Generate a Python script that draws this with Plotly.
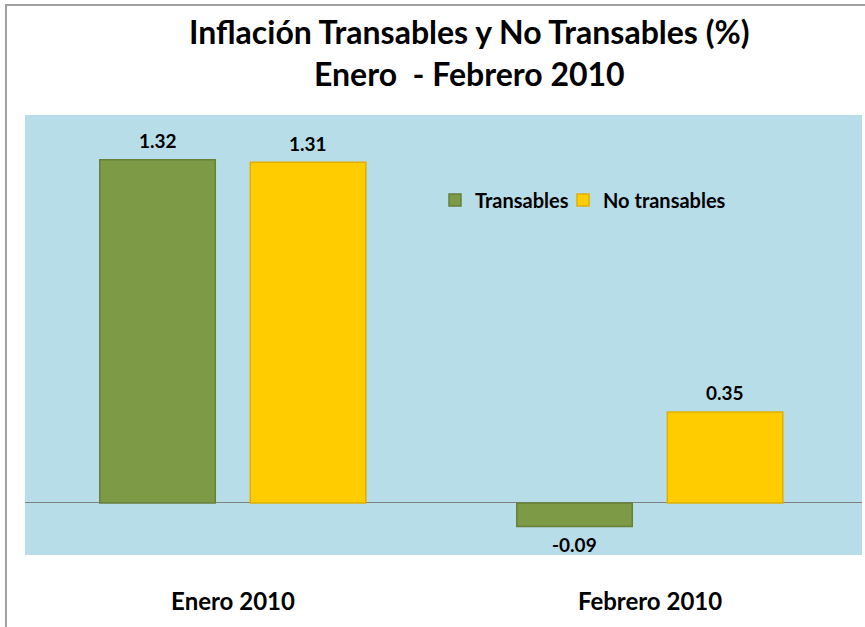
import plotly.graph_objects as go

categories = ["Enero 2010", "Febrero 2010"]
transables = [1.32, -0.09]
no_transables = [1.31, 0.35]
series_names = ["Transables", "No transables"]
title_line1 = "Inflación Transables y No Transables (%)"
title_line2 = "Enero  - Febrero 2010"

FONT = "Lato, 'Open Sans', sans-serif"
W, H = 865, 627
L, R, T, B = 25, 3, 115, 72
pw, ph = W - L - R, H - T - B


def px_to_paper(px, py):
    return (px - L) / pw, (H - B - py) / ph


xpos = list(range(len(categories)))
bar_w = 0.277
offsets = [-0.3195, 0.0415]
colors = ["#7d9a46", "#ffcc00"]
line_colors = ["#66803a", "#e0b000"]
legend_ids = ["legend", "legend2"]
legend_px = [435, 563]

fig = go.Figure()
for vals, name, off, col, lc, lg in zip([transables, no_transables], series_names, offsets,
                                        colors, line_colors, legend_ids):
    fig.add_trace(go.Bar(
        x=xpos, y=vals, name=name, width=bar_w, offset=off, legend=lg,
        marker=dict(color=col, line=dict(color=lc, width=1.5)),
    ))
    for xi, v in zip(xpos, vals):
        fig.add_annotation(
            x=xi + off + bar_w / 2, y=v, xref="x", yref="y",
            text=f"<b>{v:.2f}</b>", showarrow=False,
            yanchor="middle", yshift=19 if v >= 0 else -18,
            font=dict(family=FONT, size=19, color="black"),
        )

for txt, cy in [(title_line1, 32), (title_line2, 74)]:
    ax, ay = px_to_paper(469, cy)
    fig.add_annotation(
        x=ax, y=ay, xref="paper", yref="paper", text=f"<b>{txt}</b>",
        showarrow=False, xanchor="center", yanchor="middle",
        font=dict(family=FONT, size=32, color="black"),
    )

# outer chart frame
x0, y0 = px_to_paper(6, 5)
x1, _ = px_to_paper(900, 5)
_, y1 = px_to_paper(6, 700)
fig.add_shape(type="path", xref="paper", yref="paper",
              path=f"M {x0} {y1} L {x0} {y0} L {x1} {y0}",
              line=dict(color="#a0a0a0", width=2))

legend_common = dict(orientation="h", xanchor="left", yanchor="middle",
                     bgcolor="rgba(0,0,0,0)",
                     font=dict(family=FONT, size=20, color="black", weight="bold"),
                     itemwidth=30)
legends = {}
for lg, lpx in zip(legend_ids, legend_px):
    lx, ly = px_to_paper(lpx, 200)
    legends[lg] = dict(legend_common, x=lx, y=ly)

fig.update_layout(
    width=W, height=H,
    margin=dict(l=L, r=R, t=T, b=B),
    paper_bgcolor="white", plot_bgcolor="#b7dde8",
    barmode="overlay",
    showlegend=True,
    **legends,
    xaxis=dict(range=[(L - 233) / 417, (W - R - 233) / 417], tickvals=xpos,
               ticktext=[f"<b>{c}</b>" for c in categories], showgrid=False, zeroline=False,
               showline=False, ticks="", ticklabelstandoff=30,
               tickfont=dict(family=FONT, size=24, color="black")),
    yaxis=dict(range=[-0.2, 1.492], showticklabels=False, showgrid=False,
               zeroline=True, zerolinecolor="#808080", zerolinewidth=1, ticks=""),
)

fig.write_html("out.html", config={"displayModeBar": False},
               post_script="document.body.style.margin='0px';document.body.style.overflow='hidden';")
